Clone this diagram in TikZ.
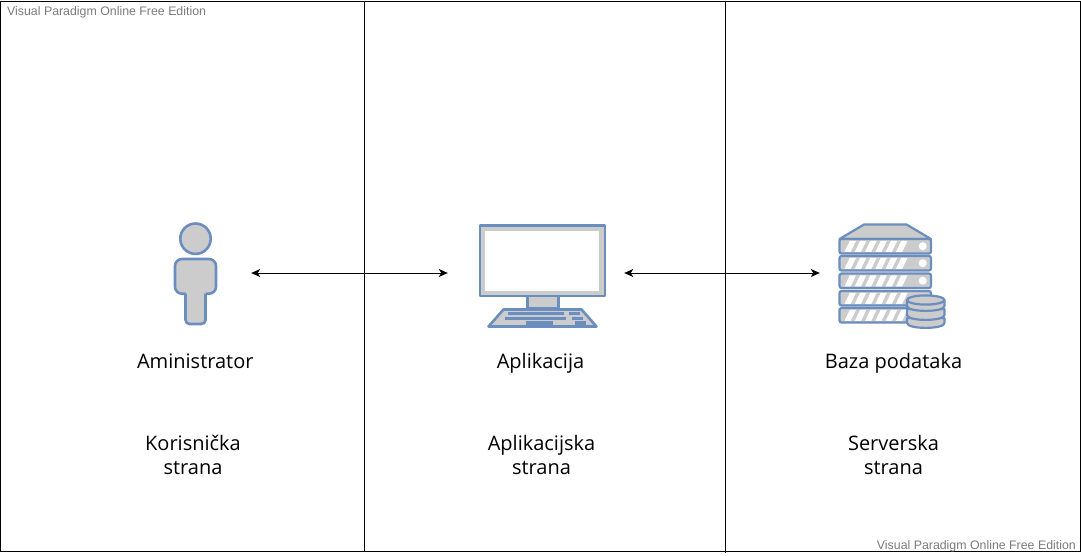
\documentclass[tikz,border=0pt]{standalone}
\usepackage{fontspec}
\setmainfont{Open Sans}
\newfontfamily\wmfont{Liberation Sans}
\usetikzlibrary{arrows.meta}
\definecolor{iconblue}{HTML}{6C8EBF}
\definecolor{icongray}{HTML}{CCCCCC}
\definecolor{wmgray}{HTML}{7A7A7A}
\tikzset{
  px/.style={x=1pt,y=-1pt},
  frameline/.style={draw=black,line width=1pt},
  icon/.style={draw=iconblue,fill=icongray,line width=2.6pt,line join=round},
  iconthin/.style={draw=iconblue,fill=icongray,line width=2.2pt,line join=round},
  keyrow/.style={fill=iconblue,draw=none},
  stripe/.style={fill=white,draw=none},
  label/.style={font=\fontsize{20pt}{24.5pt}\selectfont,text=black,align=center,inner sep=0pt},
  watermark/.style={font=\wmfont\fontsize{12.35pt}{14pt}\selectfont,text=wmgray,inner sep=0pt},
  iconbox/.style={inner sep=0pt,minimum height=20pt,draw=none},
  link/.style={draw=black,line width=0.9pt,{Stealth[length=9pt,width=8pt,inset=2.5pt]}-{Stealth[length=9pt,width=8pt,inset=2.5pt]}},
}
\newcommand{\serverunit}[1]{%
  \draw[iconthin,rounded corners=2pt] (839.5,#1) rectangle (931,#1+14.5);
  \foreach \s in {0,1,2,3,4,5}{
    \fill[stripe] ({844.5+\s*10.3},#1+12.8) -- ({850.7+\s*10.3},#1+12.8) -- ({856+\s*10.3},#1+1.8) -- ({849.8+\s*10.3},#1+1.8) -- cycle;
  }
  \fill[white] (922.7,#1+7.2) circle (4pt);
}
\begin{document}
\begin{tikzpicture}[px]
\useasboundingbox (0,0) rectangle (1081,555);
% frame
\draw[frameline] (0.5,1) rectangle (1080.5,551.5);
\draw[frameline] (364.5,1) -- (364.5,552);
\draw[frameline] (725.5,1) -- (725.5,553);
% watermarks
\node[watermark,anchor=west] (wmtop) at (7,12) {Visual Paradigm Online Free Edition};
\node[watermark,anchor=east] (wmbottom) at (1076,546) {Visual Paradigm Online Free Edition};
% person
\draw[icon] (195.5,238.7) circle (15.2pt);
\draw[icon,rounded corners=4pt] (185.5,285) -- (185.5,324) -- (205.5,324) -- (205.5,285);
\draw[icon,rounded corners=7pt] (185.5,293.7) -- (175,293.7) -- (175,259) -- (216,259) -- (216,293.7) -- (205.5,293.7);
\fill[icongray] (186.8,288) rectangle (204.2,296);
% monitor
\draw[icon,fill=icongray] (480,225.3) rectangle (605,295.8);
\fill[white] (485,230.5) rectangle (599,291);
\draw[icon] (527.5,296) rectangle (558.5,308.5);
\draw[icon] (503.5,309.5) -- (581.5,309.5) -- (596.5,326.5) -- (488.5,326.5) -- cycle;
\fill[keyrow] (508,312) rectangle (564,315);
\fill[keyrow] (569,312) rectangle (580,315);
\fill[keyrow] (505,317) rectangle (566,320);
\fill[keyrow] (572,317) rectangle (583,320);
\fill[keyrow] (526,321.3) rectangle (553,324.5);
\fill[keyrow] (575,321.3) rectangle (586,324.5);
% server
\draw[iconthin] (839.5,239) -- (864,224.5) -- (906.5,224.5) -- (931,239) -- cycle;
\serverunit{239}
\serverunit{256}
\serverunit{273.5}
\serverunit{291}
\serverunit{308}
% database
\draw[iconthin] (907,318) -- (907,323) .. controls (907,329.5) and (944.5,329.5) .. (944.5,323) -- (944.5,318) -- cycle;
\draw[iconthin] (907,309) -- (907,315) .. controls (907,321.5) and (944.5,321.5) .. (944.5,315) -- (944.5,309) -- cycle;
\draw[iconthin] (907,300) -- (907,306) .. controls (907,312.5) and (944.5,312.5) .. (944.5,306) -- (944.5,300) -- cycle;
\draw[iconthin] (925.7,300) ellipse (18.7pt and 4.6pt);
% icon anchors for connectors
\node[iconbox,minimum width=41pt] (person) at (195.5,273) {};
\node[iconbox,minimum width=127pt] (monitor) at (542.5,273) {};
\node[iconbox,minimum width=92pt] (server) at (885,273) {};
\draw[link,shorten <=35pt,shorten >=31pt] (person.east) -- (monitor.west);
\draw[link,shorten <=18pt,shorten >=19pt] (monitor.east) -- (server.west);
% labels
\node[label,anchor=base] (adminlabel) at (195.3,368) {Aministrator};
\node[label,anchor=base] (applabel) at (540.5,368) {Aplikacija};
\node[label,anchor=base] (dblabel) at (893.5,368) {Baza podataka};
\node[label] (userside) at (193,455) {Korisnička\\strana};
\node[label] (appside) at (541.5,455) {Aplikacijska\\strana};
\node[label] (serverside) at (893.5,455) {Serverska\\strana};
\end{tikzpicture}
\end{document}
